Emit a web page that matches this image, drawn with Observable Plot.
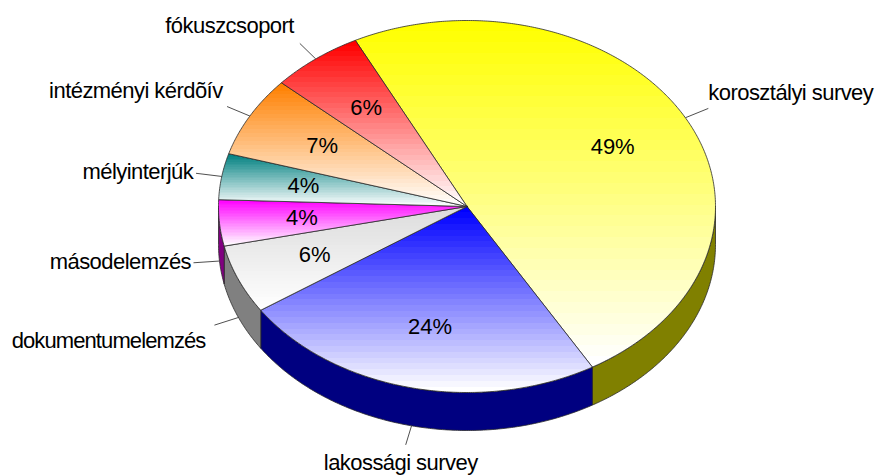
<!DOCTYPE html>
<html>
<head>
<meta charset="utf-8">
<script src="https://cdn.jsdelivr.net/npm/d3@7"></script>
<script src="https://cdn.jsdelivr.net/npm/@observablehq/plot@0.6"></script>
<style>html,body{margin:0;padding:0;background:#fff}svg{display:block}.lab{letter-spacing:-0.55px}.labTight{letter-spacing:-0.9px}</style>
</head>
<body>
<div id="chart"></div>
<script>
const categories = ["korosztályi survey","lakossági survey","dokumentumelemzés","másodelemzés","mélyinterjúk","intézményi kérdõív","fókuszcsoport"];
const shares = [49,24,6,4,4,7,6];
const faceColors = ["#ffff00","#0000ff","#dcdcdc","#ff00ff","#008080","#ff8000","#ff0000"];
const sideColors = ["#808000","#000080","#808080","#800080","#004040","#804000","#800000"];

const W = 875, H = 475, CX = 466.5, CY = 206, RX = 248.5, RY = 186, DEPTH = 38;
const START = -26.7, STEPS = 32;
const rad = d => d * Math.PI / 180;
const pieGen = d3.pie().sort(null).startAngle(rad(START)).endAngle(rad(START + 360));
const arcs = pieGen(shares).map((a, i) => ({
  i, a0: a.startAngle * 180 / Math.PI, a1: a.endAngle * 180 / Math.PI,
  mid: (a.startAngle + a.endAngle) * 90 / Math.PI
}));
const depthU = DEPTH / RY;
const pt = (deg, r = 1, drop = 0) => ({x: r * Math.sin(rad(deg)), y: r * Math.cos(rad(deg)) - drop});
const arcPts = (a0, a1, drop = 0) => [...d3.range(a0, a1, 0.5), a1].map(d => pt(d, 1, drop));

const facePoly = s => { const c = {x: 0, y: 0}; return [c, ...arcPts(s.a0, s.a1), c]; };
const sidePoly = s => {
  const a0 = Math.max(s.a0, 90), a1 = Math.min(s.a1, 270);
  if (a1 <= a0) return null;
  const top = arcPts(a0, a1), bottom = arcPts(a0, a1, depthU).reverse();
  return [...top, ...bottom, top[0]];
};
const polyLine = (pts, fill) => Plot.line(pts, {x: "x", y: "y", fill, stroke: "#2a2a2a", strokeWidth: 0.8, strokeLinejoin: "round"});

const sides = arcs.map(s => { const p = sidePoly(s); return p ? polyLine(p, sideColors[s.i]) : null; });
const faces = arcs.map(s => polyLine(facePoly(s), `url(#grad${s.i})`));

const drop = s => Math.cos(rad(s.mid)) < 0 ? depthU : 0;
const leaders = arcs.map(s => {
  const a = pt(s.mid, 1, drop(s)), b = pt(s.mid, 1.105, drop(s));
  return {x1: a.x, y1: a.y, x2: b.x, y2: b.y};
});
const labels = arcs.map(s => {
  const si = Math.sin(rad(s.mid)), co = Math.cos(rad(s.mid));
  const e = pt(s.mid, 1.105, drop(s));
  const anchor = Math.abs(si) < 0.4 ? "middle" : si > 0 ? "start" : "end";
  const lift = Math.abs(co) > 0.3 ? Math.sign(co) * (13.5 + 5 * Math.abs(co)) : 1;
  const shift = anchor === "end" ? -2 - 5 * Math.abs(co) : 0;
  return {x: e.x + shift / RX, y: e.y + lift / RY, name: categories[s.i], anchor, low: co < -0.3};
});
const pct = arcs.map(s => ({...pt(s.mid, 0.667), text: shares[s.i] + "%"}));

const fontFamily = "'Liberation Sans', Arial, sans-serif";
const FS = 22;
const labelMark = (rows, anchor, dx, className = "lab") => Plot.text(rows, {
  x: "x", y: "y", text: "name", textAnchor: anchor, dx, fontSize: FS, fontFamily, fill: "#000", className
});
const endRows = labels.filter(l => l.anchor === "end");

const chart = Plot.plot({
  width: W, height: H, margin: 0,
  style: {background: "#fff", fontFamily},
  x: {domain: [-CX / RX, (W - CX) / RX], range: [0, W], axis: null},
  y: {domain: [CY / RY, (CY - H) / RY], range: [0, H], axis: null},
  marks: [
    Plot.link(leaders, {x1: "x1", y1: "y1", x2: "x2", y2: "y2", stroke: "#222", strokeWidth: 0.8}),
    sides.filter(Boolean),
    faces,
    labelMark(endRows.filter(l => !l.low), "end", 0),
    labelMark(endRows.filter(l => l.low), "end", -5, "labTight"),
    labelMark(labels.filter(l => l.anchor === "start"), "start", 0),
    labelMark(labels.filter(l => l.anchor === "middle"), "middle", -5),
    Plot.text(pct, {x: "x", y: "y", text: "text", fontSize: FS, fontFamily, fill: "#000"})
  ]
});

const defs = d3.select(chart).insert("defs", ":first-child");
arcs.forEach(s => {
  const g = defs.append("linearGradient").attr("id", `grad${s.i}`)
    .attr("x1", 0).attr("y1", 0).attr("x2", 0).attr("y2", 1);
  const mix = d3.interpolateRgb(faceColors[s.i], "#ffffff");
  d3.range(STEPS).forEach(k => {
    g.append("stop").attr("offset", k / STEPS).attr("stop-color", mix(k / (STEPS - 1)));
    g.append("stop").attr("offset", (k + 1) / STEPS).attr("stop-color", mix(k / (STEPS - 1)));
  });
});
document.getElementById("chart").append(chart);
</script>
</body>
</html>
